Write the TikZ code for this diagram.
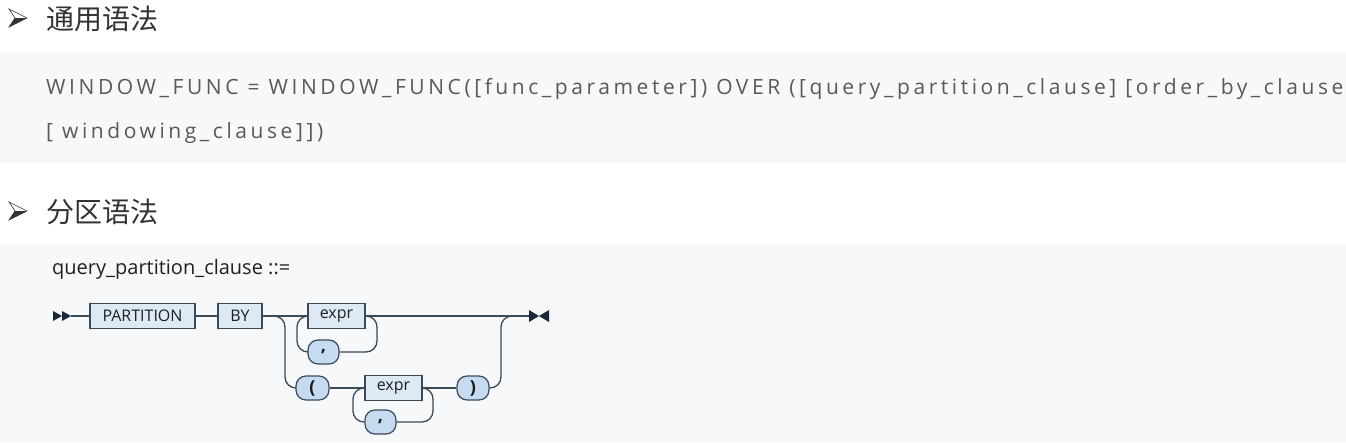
\documentclass[tikz,border=0pt]{standalone}
\usepackage{fontspec}
\setmainfont{Open Sans}
\newfontfamily\cjk{Noto Sans CJK SC}
\newfontfamily\codefont[LetterSpace=17]{Open Sans}
\definecolor{bgA}{HTML}{F8F8F8}
\definecolor{bgB}{HTML}{F6F8FA}
\definecolor{headc}{HTML}{333333}
\definecolor{codec}{HTML}{595959}
\definecolor{railc}{HTML}{3C4A57}
\definecolor{boxfill}{HTML}{DDE9F5}
\definecolor{pillfill}{HTML}{C6DBF0}
\definecolor{markc}{HTML}{1B2838}
\begin{document}
\begin{tikzpicture}[x=1pt,y=-1pt,
  term/.style={draw=railc, fill=boxfill, line width=1.2pt, minimum height=25, inner sep=0,
    font=\fontsize{16}{18}\selectfont, text=black!88},
  pill/.style={draw=railc, fill=pillfill, line width=1.2pt, rounded corners=10pt, minimum height=24,
    minimum width=32, inner sep=0, font=\fontsize{18}{18}\selectfont\bfseries, text=black!90},
  rail/.style={draw=railc, line width=1.3pt, rounded corners=11pt},
  head/.style={anchor=west, inner sep=0, text=headc, font=\fontsize{28}{30}\selectfont\cjk},
  code/.style={anchor=base west, inner sep=0, text=codec, font=\fontsize{21}{24}\selectfont\codefont}]
\useasboundingbox (0,0) rectangle (1346,442);
\fill[bgA] (0,52) rectangle (1346,163);
\fill[bgB] (0,244) rectangle (1346,442);
% header markers
\foreach \yy in {18,211} {
  \draw[headc, line width=0.6pt, line join=miter] (9,\yy-9) -- (27,\yy) -- (9,\yy+9) -- (15,\yy) -- cycle;
  \fill[headc] (15,\yy) -- (27,\yy) -- (9,\yy+9) -- cycle;
}
\node[head] (h1) at (46,19) {通用语法};
\node[head] (h2) at (46,212) {分区语法};
% code
\node[code] (c1) at (46,94) {WINDOW\_FUNC = WINDOW\_FUNC([func\_parameter]) OVER ([query\_partition\_clause] [order\_by\_clause};
\node[code] (c2) at (46,138) {[ windowing\_clause]])};
% diagram
\node[anchor=base west, inner sep=0, text=black!87, font=\fontsize{20}{22}\selectfont] (title) at (52,274) {query\_partition\_clause ::=};
\fill[markc] (53,311) -- (62,316) -- (53,321) -- cycle;
\fill[markc] (62,311) -- (71,316) -- (62,321) -- cycle;
\coordinate (start) at (71,316);
\fill[markc] (529,310) -- (539,316) -- (529,322) -- cycle;
\fill[markc] (549,310) -- (539,316) -- (549,322) -- cycle;
\coordinate (end) at (529,316);
\node[term, minimum width=105] (part) at (142.5,316) {PARTITION};
\node[term, minimum width=44] (by) at (240,316) {BY};
\node[term, minimum width=57] (ex1) at (336.5,316) {expr};
\node[pill, minimum width=31] (cm1) at (323.5,352) {,};
\node[pill, minimum width=33] (lp) at (312.5,388) {(};
\node[term, minimum width=57] (ex2) at (393.5,388) {expr};
\node[pill, minimum width=32] (rp) at (473,388) {)};
\node[pill, minimum width=31] (cm2) at (380.5,422) {,};
\coordinate (vA) at (285,316);
\coordinate (vB) at (377,316);
\coordinate (vC) at (297,316);
\coordinate (vD) at (501,316);
\coordinate (vE) at (433,388);
\coordinate (vF) at (353,388);
\draw[rail] (start) -- (part.west);
\draw[rail] (part.east) -- (by.west);
\draw[rail] (by.east) -- (ex1.west);
\draw[rail] (ex1.east) -- (end);
\draw[rail] (by.east) -- (vA) -- (vA |- lp.west) -- (lp.west);
\draw[rail] (ex1.east) -- (vB) -- (vB |- cm1.east) -- (cm1.east);
\draw[rail] (cm1.west) -- (vC |- cm1.west) -- (vC) -- (ex1.west);
\draw[rail] (lp.east) -- (ex2.west);
\draw[rail] (ex2.east) -- (rp.west);
\draw[rail] (rp.east) -- (vD |- rp.east) -- (vD) -- (end);
\draw[rail] (ex2.east) -- (vE) -- (vE |- cm2.east) -- (cm2.east);
\draw[rail] (cm2.west) -- (vF |- cm2.west) -- (vF) -- (ex2.west);
\end{tikzpicture}
\end{document}
